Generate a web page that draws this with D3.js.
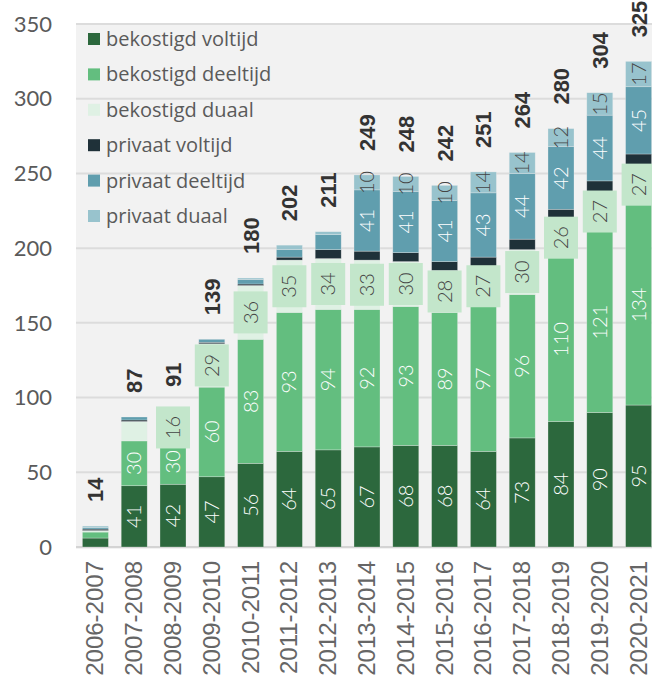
<!DOCTYPE html>
<html>
<head>
<meta charset="utf-8">
<script src="https://cdn.jsdelivr.net/npm/d3@7"></script>
<style>
  body { margin: 0; background: #fff; }
</style>
</head>
<body>
<div id="chart"></div>
<script>
var years = ["2006-2007","2007-2008","2008-2009","2009-2010","2010-2011","2011-2012","2012-2013",
  "2013-2014","2014-2015","2015-2016","2016-2017","2017-2018","2018-2019","2019-2020","2020-2021"]
var seriesNames = ["bekostigd voltijd","bekostigd deeltijd","bekostigd duaal","privaat voltijd","privaat deeltijd","privaat duaal"]
var bekostigdVoltijd  = [6, 41, 42, 47, 56, 64, 65, 67, 68, 68, 64, 73, 84, 90, 95]
var bekostigdDeeltijd = [4, 30, 30, 60, 83, 93, 94, 92, 93, 89, 97, 96, 110, 121, 134]
var bekostigdDuaal    = [1, 13, 16, 29, 36, 35, 34, 33, 30, 28, 27, 30, 26, 27, 27]
var privaatVoltijd    = [1, 1, 1, 1, 1, 2, 6, 6, 6, 6, 6, 7, 6, 7, 7]
var privaatDeeltijd   = [1, 2, 1, 2, 3, 5, 10, 41, 41, 41, 43, 44, 42, 44, 45]
var privaatDuaal      = [1, 0, 1, 0, 1, 3, 2, 10, 10, 10, 14, 14, 12, 15, 17]
var totals = [14, 87, 91, 139, 180, 202, 211, 249, 248, 242, 251, 264, 280, 304, 325]
var yTicks = [0, 50, 100, 150, 200, 250, 300, 350]

var colors = ["#2c683d", "#63be7f", "#dff1e4", "#1f3139", "#609eae", "#98c3cd"]
var textColors = ["#fff", "#fff", "#444", "none", "#fff", "#444"]
var minLabel = [15, 15, 15, 999, 20, 10]

var W = 652, H = 684
var svg = d3.select("#chart").append("svg")
  .attr("width", W).attr("height", H)

var x = d3.scaleBand().domain(years).range([76, 658]).paddingInner(0.33).paddingOuter(0.165)
var y = d3.scaleLinear().domain([0, 350]).range([547, 24])

// panel background
svg.append("rect").attr("x", 76).attr("y", 23).attr("width", W - 76).attr("height", 526)
  .attr("fill", "#f2f2f2")

// gridlines
svg.append("g").selectAll("line").data(yTicks).enter().append("line")
  .attr("x1", 76).attr("x2", W)
  .attr("y1", function(d) { return y(d) }).attr("y2", function(d) { return y(d) })
  .attr("stroke", function(d) { return d == 0 ? "#d4d4d4" : "#dcdcdc" })
  .attr("stroke-width", 2)

// y axis labels
svg.append("g").selectAll("text").data(yTicks).enter().append("text")
  .attr("x", 52).attr("y", function(d) { return y(d) })
  .attr("dy", "0.35em").attr("text-anchor", "end")
  .style("font-family", "Lato").style("font-size", "22px").style("fill", "#5a5a5a")
  .text(function(d) { return d })

// stack
var rows = years.map(function(yr, i) {
  return {year: yr, s0: bekostigdVoltijd[i], s1: bekostigdDeeltijd[i], s2: bekostigdDuaal[i],
          s3: privaatVoltijd[i], s4: privaatDeeltijd[i], s5: privaatDuaal[i]}
})
var stack = d3.stack().keys(["s0","s1","s2","s3","s4","s5"])(rows)

var layers = svg.append("g").selectAll("g").data(stack).enter().append("g")
  .attr("fill", function(d, i) { return colors[i] })
layers.selectAll("rect").data(function(d) { return d }).enter().append("rect")
  .attr("x", function(d) { return x(d.data.year) })
  .attr("width", x.bandwidth())
  .attr("y", function(d) { return y(d[1]) })
  .attr("height", function(d) { return y(d[0]) - y(d[1]) })
  .attr("stroke", "#f2f2f2").attr("stroke-opacity", 0.5).attr("stroke-width", 0.6)

// value labels
stack.forEach(function(layer, si) {
  layer.forEach(function(d) {
    var v = d[1] - d[0]
    if (v < minLabel[si]) return
    var cx = x(d.data.year) + x.bandwidth() / 2
    var cy = (y(d[0]) + y(d[1])) / 2
    var g = svg.append("g").attr("transform", "translate(" + cx + "," + cy + ") rotate(-90)")
    if (si == 2) {
      var len = String(v).length
      g.append("rect").attr("x", -(len * 11 + 20) / 2).attr("y", -17)
        .attr("width", len * 11 + 20).attr("height", 34).attr("fill", "#c3e6cb")
    }
    g.append("text").attr("text-anchor", "middle").attr("dy", "0.35em")
      .style("font-family", "Lato").style("font-weight", 300).style("font-size", "20px")
      .style("fill", textColors[si])
      .text(v)
  })
})

// total labels
svg.append("g").selectAll("text").data(totals).enter().append("text")
  .attr("transform", function(d, i) {
    return "translate(" + (x(years[i]) + x.bandwidth() / 2 + 8) + "," + (y(d) - 24) + ") rotate(-90)"
  })
  .attr("text-anchor", "start")
  .style("font-family", "Liberation Sans").style("font-weight", "bold").style("font-size", "22px")
  .style("fill", "#333")
  .text(function(d) { return d })

// x axis labels
svg.append("g").selectAll("text").data(years).enter().append("text")
  .attr("transform", function(d) {
    return "translate(" + (x(d) + x.bandwidth() / 2 + 8) + ",561) rotate(-90)"
  })
  .attr("text-anchor", "end")
  .style("font-family", "Liberation Sans").style("font-size", "24px").style("fill", "#666")
  .text(function(d) { return d })

// legend
var legend = svg.append("g").selectAll("g").data(seriesNames).enter().append("g")
  .attr("transform", function(d, i) { return "translate(88," + (39 + i * 35.4) + ")" })
legend.append("rect").attr("x", 0).attr("y", -6).attr("width", 12).attr("height", 12)
  .attr("fill", function(d, i) { return colors[i] })
legend.append("text").attr("x", 18).attr("dy", "0.35em")
  .style("font-family", "Open Sans").style("font-size", "20px").style("fill", "#5a5a5a")
  .text(function(d) { return d })
</script>
</body>
</html>
